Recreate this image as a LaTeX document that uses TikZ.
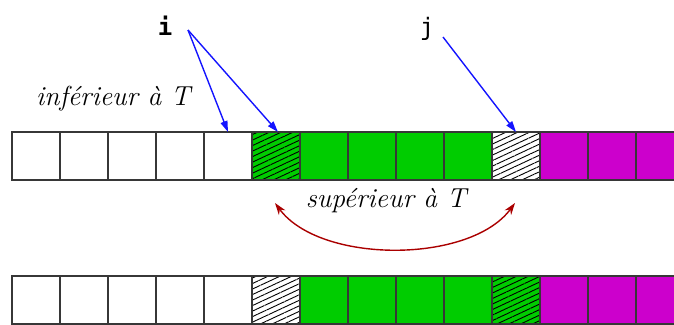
\documentclass[tikz,border=0pt]{standalone}
\usepackage{fontspec}
\newfontfamily\monofont{DejaVu Sans Mono}
\usetikzlibrary{arrows.meta,patterns.meta}
\definecolor{cgreen}{RGB}{0,204,0}
\definecolor{cmag}{RGB}{204,0,204}
\definecolor{cblue}{RGB}{20,20,255}
\definecolor{cred}{RGB}{170,0,0}
\definecolor{cline}{RGB}{55,55,55}
\begin{document}
\begin{tikzpicture}[x=1pt,y=-1pt,
  cell/.style={draw=cline, line width=1.2pt, minimum width=48pt, minimum height=48pt,
    inner sep=0pt, outer sep=0pt, anchor=north west},
  wcell/.style={cell, fill=white},
  gcell/.style={cell, fill=cgreen},
  mcell/.style={cell, fill=cmag},
  hatch/.style={pattern={Lines[angle=25,distance=5pt,line width=0.9pt]}},
  hgcell/.style={cell, preaction={fill=cgreen}, hatch},
  hwcell/.style={cell, preaction={fill=white}, hatch},
  ptr/.style={cblue, line width=1.4pt, -{Triangle[length=11pt,width=7pt]}},
  swap/.style={cred, line width=1.4pt, {Stealth[length=12pt,width=8pt]}-{Stealth[length=12pt,width=8pt]}},
  lab/.style={font=\fontsize{27.5}{32}\selectfont\itshape, inner sep=0pt},
  idx/.style={font=\monofont\fontsize{24}{28}\selectfont, inner sep=0pt, anchor=base}
]
\useasboundingbox (0,0) rectangle (674,324);
% top row
\foreach \k/\s in {0/wcell,1/wcell,2/wcell,3/wcell,4/wcell,5/hgcell,6/gcell,7/gcell,8/gcell,9/gcell,10/hwcell,11/mcell,12/mcell,13/mcell}
  \node[\s] (t\k) at ({12+48*\k},132) {};
% bottom row
\foreach \k/\s in {0/wcell,1/wcell,2/wcell,3/wcell,4/wcell,5/hwcell,6/gcell,7/gcell,8/gcell,9/gcell,10/hgcell,11/mcell,12/mcell,13/mcell}
  \node[\s] (b\k) at ({12+48*\k},276) {};
% labels
\node[lab, anchor=base west] (inf) at (36,105) {inférieur à T};
\node[lab, anchor=base] (sup) at (386,207) {supérieur à T};
\node[idx, font=\monofont\bfseries\fontsize{24}{28}\selectfont] (i) at (165,35) {i};
\node[idx] (j) at (427,35) {j};
% pointers
\coordinate (is) at (188,30);
\coordinate (js) at (443,37);
\draw[ptr] (is) -- (t4.north);
\draw[ptr] (is) -- ([xshift=2pt]t5.north);
\draw[ptr] (js) -- (t10.north);
% swap arrow
\coordinate (la) at (275,203);
\coordinate (ra) at (515,203);
\draw[swap] (la) .. controls (320,264) and (470,264) .. (ra);
\end{tikzpicture}
\end{document}
